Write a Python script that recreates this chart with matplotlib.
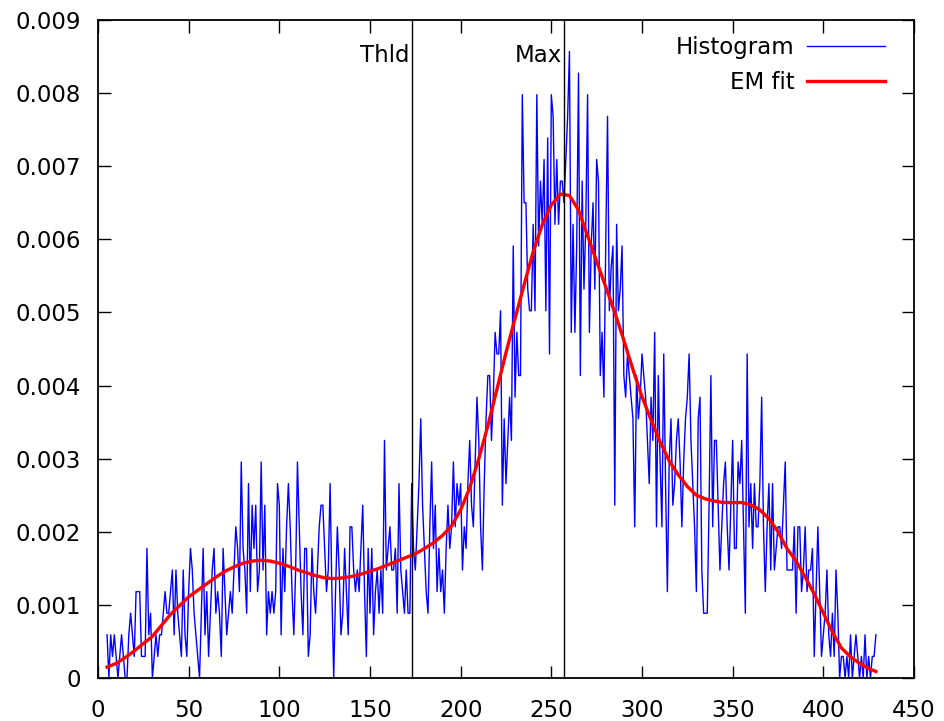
import numpy as np
import matplotlib
matplotlib.use("Agg")
import matplotlib.pyplot as plt

# histogram: counts per bin, starting at bin 5
hist_start = 5
hist_counts = [
    2, 0, 2, 1, 2,
    1, 0, 1, 2, 1, 0, 0, 2, 3, 2,
    1, 4, 4, 4, 1, 1, 1, 6, 2, 3,
    0, 1, 2, 1, 2, 2, 3, 4, 3, 3,
    4, 5, 2, 5, 3, 2, 1, 5, 2, 1,
    4, 6, 5, 3, 2, 1, 0, 3, 6, 2,
    4, 1, 3, 5, 6, 3, 4, 3, 1, 6,
    4, 2, 3, 4, 3, 5, 7, 6, 4, 10,
    6, 5, 3, 9, 4, 8, 6, 8, 4, 5,
    10, 5, 8, 2, 4, 3, 4, 3, 4, 9,
    8, 2, 6, 4, 7, 9, 7, 4, 2, 5,
    10, 7, 4, 2, 6, 6, 1, 2, 6, 4,
    3, 5, 7, 8, 8, 6, 4, 5, 9, 4,
    0, 4, 7, 5, 2, 3, 6, 4, 2, 7,
    7, 5, 4, 5, 4, 6, 8, 4, 1, 6,
    3, 6, 2, 4, 5, 3, 5, 3, 11, 5,
    6, 7, 5, 5, 6, 3, 9, 5, 4, 3,
    5, 3, 3, 9, 6, 5, 7, 9, 12, 8,
    6, 4, 3, 7, 10, 6, 8, 4, 6, 4,
    5, 3, 6, 8, 6, 7, 10, 7, 9, 8,
    9, 5, 7, 6, 9, 11, 8, 7, 10, 13,
    11, 7, 5, 9, 12, 14, 14, 11, 13, 16,
    15, 15, 17, 8, 12, 9, 11, 13, 11, 20,
    13, 16, 14, 14, 27, 22, 22, 18, 17, 17,
    21, 17, 27, 20, 23, 21, 24, 17, 25, 15,
    27, 26, 21, 24, 21, 23, 23, 22, 24, 26,
    29, 16, 21, 16, 20, 28, 14, 23, 18, 21,
    27, 16, 20, 22, 18, 24, 23, 14, 16, 13,
    20, 26, 17, 19, 20, 8, 21, 17, 18, 20,
    14, 13, 15, 14, 13, 12, 7, 14, 12, 13,
    15, 14, 13, 11, 9, 13, 11, 16, 7, 14,
    10, 7, 15, 9, 4, 10, 12, 8, 9, 11,
    12, 10, 7, 10, 12, 13, 15, 11, 9, 7,
    4, 12, 13, 5, 3, 3, 3, 8, 14, 7,
    11, 11, 8, 5, 7, 9, 10, 7, 5, 8,
    11, 6, 6, 10, 9, 11, 7, 3, 15, 7,
    9, 6, 9, 7, 7, 9, 13, 7, 4, 7,
    9, 5, 9, 5, 6, 7, 7, 6, 8, 10,
    5, 5, 5, 5, 7, 3, 7, 7, 4, 5,
    7, 4, 5, 5, 6, 1, 4, 7, 4, 1,
    2, 3, 5, 2, 1, 3, 1, 5, 3, 0,
    1, 1, 0, 1, 0, 2, 0, 1, 2, 1,
    0, 1, 0, 2, 0, 1, 0, 1, 1, 2,
]
hist_total = 3384  # counts -> density

# EM fit, read every 5 units (density x 1e-3)
fit_x = [5, 10, 15, 20, 25, 30, 35, 40, 45, 50, 55, 60, 65, 70, 75, 80, 85, 90,
         95, 100, 105, 110, 115, 120, 125, 130, 135, 140, 145, 150, 155, 160,
         165, 170, 175, 180, 185, 190, 195, 200, 205, 210, 215, 220, 225, 230,
         235, 240, 245, 250, 255, 260, 265, 270, 275, 280, 285, 290, 295, 300,
         305, 310, 315, 320, 325, 330, 335, 340, 345, 350, 355, 360, 365, 370,
         375, 380, 385, 390, 395, 400, 405, 410, 415, 420, 425, 429]
fit_y = [0.15, 0.20, 0.28, 0.37, 0.47, 0.57, 0.72, 0.87, 0.99, 1.11, 1.20, 1.29,
         1.38, 1.46, 1.52, 1.57, 1.60, 1.61, 1.60, 1.57, 1.53, 1.48, 1.44, 1.40,
         1.37, 1.36, 1.37, 1.39, 1.42, 1.46, 1.50, 1.55, 1.60, 1.65, 1.70, 1.77,
         1.85, 1.95, 2.08, 2.30, 2.60, 3.00, 3.45, 3.95, 4.45, 4.92, 5.38, 5.83,
         6.20, 6.47, 6.62, 6.60, 6.40, 6.05, 5.70, 5.35, 5.00, 4.62, 4.22, 3.85,
         3.53, 3.23, 2.97, 2.78, 2.62, 2.50, 2.45, 2.42, 2.40, 2.40, 2.40, 2.37,
         2.30, 2.18, 2.00, 1.77, 1.60, 1.38, 1.15, 0.89, 0.63, 0.41, 0.29, 0.20,
         0.13, 0.09]

thld = 173
vmax = 257

hist_x = np.arange(hist_start, hist_start + len(hist_counts))
hist_y = np.array(hist_counts) / hist_total
fit_dens = np.array(fit_y) / 1000

fs = 16.5

fig = plt.figure(figsize=(9.44, 7.21), dpi=100)
ax = fig.add_axes([0.1038, 0.0596, 0.8644, 0.9126])

ax.plot(hist_x, hist_y, color="#0000ff", lw=1.0, label="Histogram")
ax.plot(fit_x, fit_dens, color="#ff0000", lw=2.4, label="EM fit")
ax.axvline(thld, color="black", lw=1.0)
ax.axvline(vmax, color="black", lw=1.0)
ax.text(thld - 1, 0.00852, "Thld", ha="right", va="center", fontsize=fs)
ax.text(vmax - 1, 0.00852, "Max", ha="right", va="center", fontsize=fs)

ax.set_xlim(0, 450)
ax.set_ylim(0, 0.009)
ax.set_xticks(np.arange(0, 451, 50))
ax.set_yticks(np.arange(0, 0.0091, 0.001))
ax.set_yticklabels(["0"] + ["%.3f" % v for v in np.arange(0.001, 0.0091, 0.001)])
ax.tick_params(direction="in", length=9, width=1, top=True, right=True,
               labelsize=fs)
ax.tick_params(axis="y", pad=12)
ax.tick_params(axis="x", pad=15)
for s in ax.spines.values():
    s.set_linewidth(1.3)

leg = ax.legend(loc="upper right", bbox_to_anchor=(0.9645, 0.975),
                frameon=False, fontsize=fs, markerfirst=False,
                handlelength=3.4, handletextpad=0.55, borderpad=0,
                borderaxespad=0, labelspacing=0.5)
for t in leg.get_texts():
    t.set_ha("right")

fig.savefig("out.png", dpi=100)
